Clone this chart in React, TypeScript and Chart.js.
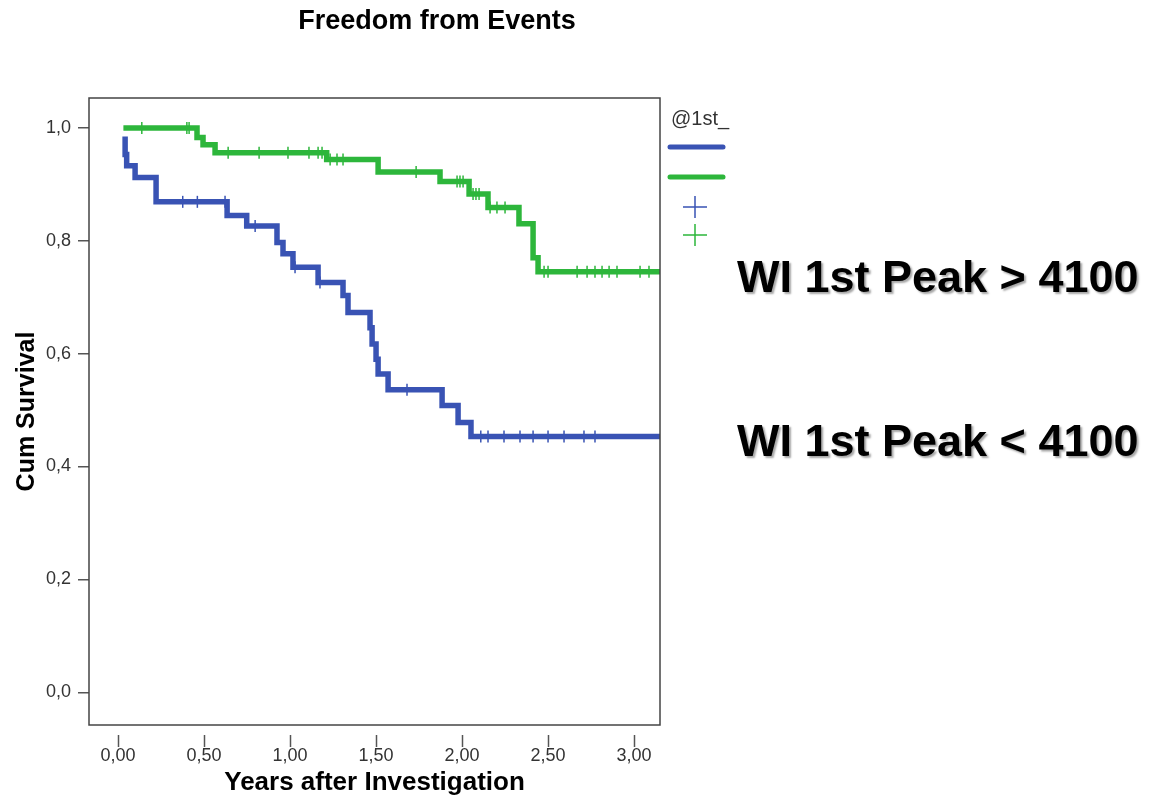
import React, { useEffect, useRef } from 'react';
import { Chart, registerables } from 'chart.js';

Chart.register(...registerables);

const TITLE = 'Freedom from Events';
const X_TITLE = 'Years after Investigation';
const Y_TITLE = 'Cum Survival';
const LEGEND_TITLE = '@1st_';
const GROUP_LABELS = ['WI 1st Peak > 4100', 'WI 1st Peak < 4100'];

const BLUE = '#3953b4';
const GREEN = '#2db63b';

// Group "< 4100" (blue): event times (years) and survival after each event
const blueTimes = [0.041, 0.041, 0.05, 0.099, 0.221, 0.634, 0.748, 0.924, 0.959, 1.017, 1.163, 1.308, 1.337, 1.465, 1.477, 1.5, 1.512, 1.57, 1.884, 1.977, 2.052, 3.3];
const blueSurv = [0.985, 0.953, 0.933, 0.912, 0.869, 0.845, 0.826, 0.797, 0.777, 0.753, 0.726, 0.703, 0.673, 0.646, 0.617, 0.59, 0.564, 0.536, 0.508, 0.478, 0.453, 0.453];
const blueCensored = [0.376, 0.461, 0.622, 0.797, 1.029, 1.174, 1.68, 2.109, 2.151, 2.244, 2.337, 2.413, 2.5, 2.593, 2.709, 2.773];

// Group "> 4100" (green)
const greenTimes = [0.031, 0.459, 0.494, 0.564, 1.213, 1.512, 1.872, 2.041, 2.151, 2.331, 2.413, 2.442, 3.3];
const greenSurv = [1.0, 0.983, 0.97, 0.956, 0.944, 0.922, 0.905, 0.883, 0.859, 0.83, 0.77, 0.745, 0.745];
const greenCensored = [0.138, 0.4, 0.413, 0.64, 0.82, 0.988, 1.11, 1.163, 1.186, 1.233, 1.273, 1.308, 1.733, 1.971, 1.988, 2.006, 2.064, 2.081, 2.099, 2.163, 2.203, 2.25, 2.477, 2.5, 2.669, 2.727, 2.773, 2.814, 2.855, 2.901, 3.035, 3.087];

const X_MIN = -0.169;
const X_MAX = 3.151;
const Y_MIN = -0.058;
const Y_MAX = 1.053;

const survAt = (times: number[], surv: number[], t: number) => {
  let s = surv[0];
  for (let i = 0; i < times.length; i++) if (times[i] <= t) s = surv[i];
  return s;
};

const FONT = "'Liberation Sans', Arial, sans-serif";

const extras = {
  id: 'spssExtras',
  afterDraw(chart: any) {
    const { ctx, chartArea } = chart;
    const xs = chart.scales.x;
    ctx.save();
    // frame
    ctx.strokeStyle = '#444';
    ctx.lineWidth = 1.5;
    ctx.strokeRect(chartArea.left, chartArea.top, chartArea.right - chartArea.left, chartArea.bottom - chartArea.top);
    // x tick marks (detached from the frame)
    ctx.strokeStyle = '#555';
    ctx.lineWidth = 1.5;
    xs.ticks.forEach((t: any) => {
      const px = Math.round(xs.getPixelForValue(t.value)) + 0.5;
      ctx.beginPath();
      ctx.moveTo(px, chartArea.bottom + 10);
      ctx.lineTo(px, chartArea.bottom + 22);
      ctx.stroke();
    });
    // title
    ctx.fillStyle = '#000';
    ctx.font = `bold 27px ${FONT}`;
    ctx.textAlign = 'center';
    ctx.textBaseline = 'middle';
    ctx.fillText(TITLE, 437, 22);
    // legend
    ctx.textAlign = 'left';
    ctx.font = `20px ${FONT}`;
    ctx.fillStyle = '#333';
    ctx.fillText(LEGEND_TITLE, 671, 119);
    ctx.lineCap = 'round';
    ctx.lineWidth = 5;
    ctx.strokeStyle = BLUE;
    ctx.beginPath(); ctx.moveTo(670, 147); ctx.lineTo(723, 147); ctx.stroke();
    ctx.strokeStyle = GREEN;
    ctx.beginPath(); ctx.moveTo(670, 177); ctx.lineTo(723, 177); ctx.stroke();
    ctx.lineCap = 'butt';
    ctx.lineWidth = 1.5;
    [[BLUE, 207], [GREEN, 235]].forEach(([c, y]: any) => {
      ctx.strokeStyle = c;
      ctx.beginPath();
      ctx.moveTo(683, y); ctx.lineTo(707, y);
      ctx.moveTo(695, y - 11); ctx.lineTo(695, y + 11);
      ctx.stroke();
    });
    // group labels
    ctx.font = `bold 45px ${FONT}`;
    ctx.fillStyle = '#000';
    ctx.shadowColor = 'rgba(0,0,0,0.35)';
    ctx.shadowOffsetX = 2;
    ctx.shadowOffsetY = 2;
    ctx.shadowBlur = 2;
    ctx.textBaseline = 'alphabetic';
    ctx.fillText(GROUP_LABELS[0], 737, 292);
    ctx.fillText(GROUP_LABELS[1], 737, 456);
    ctx.restore();
  },
};

export default function App() {
  const ref = useRef<HTMLCanvasElement>(null);
  useEffect(() => {
    if (!ref.current) return;
    const censorPoints = (times: number[], surv: number[], cens: number[]) =>
      cens.map((t) => ({ x: t, y: survAt(times, surv, t) }));
    const chart = new Chart(ref.current, {
      type: 'line',
      data: {
        datasets: [
          {
            label: 'blue',
            data: blueTimes.map((t, i) => ({ x: t, y: blueSurv[i] })),
            stepped: true,
            borderColor: BLUE,
            borderWidth: 5.5,
            pointRadius: 0,
            fill: false,
          },
          {
            label: 'green',
            data: greenTimes.map((t, i) => ({ x: t, y: greenSurv[i] })),
            stepped: true,
            borderColor: GREEN,
            borderWidth: 5.5,
            pointRadius: 0,
            fill: false,
          },
          {
            label: 'blue censored',
            data: censorPoints(blueTimes, blueSurv, blueCensored),
            showLine: false,
            pointStyle: 'line',
            rotation: 90,
            pointRadius: 6,
            borderColor: BLUE,
            backgroundColor: BLUE,
            borderWidth: 1.5,
          } as any,
          {
            label: 'green censored',
            data: censorPoints(greenTimes, greenSurv, greenCensored),
            showLine: false,
            pointStyle: 'line',
            rotation: 90,
            pointRadius: 6,
            borderColor: GREEN,
            backgroundColor: GREEN,
            borderWidth: 1.5,
          } as any,
        ],
      },
      options: {
        animation: false,
        responsive: false,
        layout: { padding: { top: 98, right: 494, left: 0, bottom: 0 } },
        plugins: { legend: { display: false }, tooltip: { enabled: false }, title: { display: false } },
        scales: {
          x: {
            type: 'linear',
            min: X_MIN,
            max: X_MAX,
            grid: { display: false, drawTicks: false },
            border: { display: false },
            ticks: {
              stepSize: 0.5,
              includeBounds: false,
              color: '#333',
              font: { family: FONT, size: 18 },
              padding: 20,
              callback: (v: any) => Number(v).toFixed(2).replace('.', ','),
              maxRotation: 0,
            },
            title: {
              display: true,
              text: X_TITLE,
              color: '#000',
              font: { family: FONT, size: 26, weight: 'bold' },
              padding: { top: 0, bottom: 2 },
            },
            afterFit: (s: any) => { s.height = 75; },
          },
          y: {
            type: 'linear',
            min: Y_MIN,
            max: Y_MAX,
            grid: { drawOnChartArea: false, drawTicks: true, tickLength: 11, color: '#555', lineWidth: 1.5 },
            border: { display: false },
            ticks: {
              stepSize: 0.2,
              includeBounds: false,
              color: '#333',
              font: { family: FONT, size: 18 },
              padding: 7,
              callback: (v: any) => Number(v).toFixed(1).replace('.', ','),
            },
            title: {
              display: true,
              text: Y_TITLE,
              color: '#000',
              font: { family: FONT, size: 25, weight: 'bold' },
              padding: { top: 12, bottom: 0 },
            },
            afterFit: (s: any) => { s.width = 89; },
          },
        },
      } as any,
      plugins: [extras],
    });
    return () => chart.destroy();
  }, []);
  return (
    <div style={{ position: 'absolute', left: 0, top: 0, width: 1154, height: 800, background: '#fff' }}>
      <canvas ref={ref} width={1154} height={800} style={{ display: 'block' }} />
    </div>
  );
}
